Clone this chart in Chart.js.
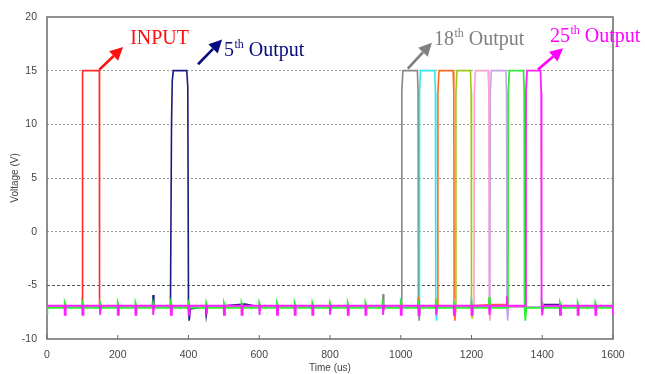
<!DOCTYPE html>
<html>
<head>
<meta charset="UTF-8">
<title>Shift register outputs</title>
<script src="https://cdn.jsdelivr.net/npm/chart.js"></script>
<style>
  html, body { margin: 0; padding: 0; background: #fff; }
  #wrap { width: 645px; height: 374px; }
</style>
</head>
<body>
<div id="wrap"><canvas id="chart"></canvas></div>
<script>
// time (us) of the clock edges seen on the baseline
const clockTimes = [50, 100, 150, 200, 250, 300, 350, 400, 450, 500, 550, 600, 650, 700, 750, 800,
                    850, 900, 950, 1000, 1050, 1100, 1150, 1200, 1250, 1300, 1350, 1400, 1450, 1500, 1550, 1600];
const magentaDip = -7.75;
const greenBump = -6.6;

// [time, voltage] points
const inputTrace = [[0, -7], [100, -7], [100.5, 15], [148, 15], [148.5, -7], [1600, -7]];
const out5Trace = [[0, -7], [298, -7], [300, -5.9], [302, -7], [349, -7], [352, 10], [354, 14], [357, 15],
                   [395, 15], [398, 13.5], [400, -7], [402, -8.3], [405, -7.2], [448, -7], [450, -7.8],
                   [453, -7], [500, -6.9], [560, -6.75], [600, -7], [1400, -7], [1405, -6.8], [1450, -6.8], [1460, -7], [1600, -7]];
const out18Trace = [[0, -7], [948, -7], [950, -5.8], [952, -7], [1002, -7], [1003, 13], [1006, 15],
                    [1047, 15], [1049, 13], [1050, -7], [1052, -8.3], [1055, -7], [1600, -7]];
const out19Trace = [[0, -7], [998, -7], [1000, -6.2], [1002, -7], [1052, -7], [1053, 13], [1056, 15],
                    [1096, 15], [1098, 13], [1099, -7], [1101, -8.3], [1104, -7], [1600, -7]];
const out20Trace = [[0, -7], [1048, -7], [1050, -6.1], [1052, -7], [1104, -7], [1105, 13], [1108, 15],
                    [1148, 15], [1150, 13], [1151, -7], [1153, -8.3], [1156, -7], [1260, -6.8], [1300, -6.8], [1305, -7], [1600, -7]];
const out21Trace = [[0, -7], [1098, -7], [1100, -6.2], [1102, -7], [1155, -7], [1156, 13], [1159, 15],
                    [1197, 15], [1199, 13], [1200, -7], [1202, -8.1], [1205, -7], [1600, -7]];
const out22Trace = [[0, -7], [1148, -7], [1150, -6.2], [1152, -7], [1207, -7], [1208, 13], [1211, 15],
                    [1247, 15], [1249, 13], [1250, -7], [1252, -8.3], [1255, -7], [1600, -7]];
const out23Trace = [[0, -7], [1198, -7], [1200, -6.2], [1202, -7], [1252, -7], [1253, 13], [1256, 15],
                    [1297, 15], [1299, 13], [1300, -7], [1302, -8.3], [1305, -7], [1600, -7]];
const out24Pulse = [[1248, -7.1], [1250, -6.1], [1252, -7.1], [1303, -7.1], [1304, 13], [1307, 15],
                    [1347, 15], [1349, 13], [1350, -7.1], [1352, -8.3], [1355, -7.1]];
const out25Pulse = [[1298, -6.9], [1300, -6.0], [1302, -6.9], [1353, -6.9], [1354, 13], [1357, 15],
                    [1395, 15], [1397, 13], [1398, -6.9], [1400, -7.8], [1403, -6.9]];

const xMin = 0, xMax = 1600, xStep = 200;
const yMin = -10, yMax = 20, yStep = 5;

// labels with arrows: [text, superscript, rest, colour, tailX, tailY, headX, headY, textX, textY]
const notes = [
  ['INPUT', '', '', '#ff1010', 148, 15.1, 215, 17.2, 235, 17.5],
  ['5', 'th', ' Output', '#0a0a80', 427, 15.6, 495, 17.9, 500, 16.35],
  ['18', 'th', ' Output', '#808080', 1020, 15.2, 1088, 17.6, 1094, 17.4],
  ['25', 'th', ' Output', '#ff00ff', 1388, 15.1, 1459, 17.1, 1422, 17.7]
];

function toXY(list) { return list.map(p => ({ x: p[0], y: p[1] })); }

// the last two traces carry the clock feed-through on the baseline
function withClock(pulse, level, spikeLevel, down) {
  const pts = [[0, down ? -6.9 : -7.6], [1, level]];
  clockTimes.forEach(t => {
    if (t > pulse[0][0] - 3 && t < pulse[pulse.length - 1][0] + 3) return;
    if (down) {
      pts.push([t - 0.5, level], [t, spikeLevel], [t + 2, spikeLevel], [t + 3, level]);
    } else {
      pts.push([t - 1, level], [t, spikeLevel], [t + 5, level]);
    }
  });
  pulse.forEach(p => pts.push(p));
  pts.sort((a, b) => a[0] - b[0]);
  return pts;
}

function line(data, color, width) {
  return { data: toXY(data), borderColor: color, borderWidth: width || 1.6,
           pointRadius: 0, tension: 0, fill: false };
}

const datasets = [
  line(withClock(out25Pulse, -6.9, magentaDip, true), '#ff20ff', 1.8),
  line(withClock(out24Pulse, -7.1, greenBump, false), '#30ee30', 1.8),
  line(out23Trace, '#c8a0f0'),
  line(out22Trace, '#ffa0c8'),
  line(out21Trace, '#a0c818'),
  line(out20Trace, '#ff6a20'),
  line(out19Trace, '#30e8e8'),
  line(out18Trace, '#888888'),
  line(out5Trace, '#1a1a80'),
  line(inputTrace, '#ff2a2a')
];

const framePlugin = {
  id: 'frame',
  beforeDatasetsDraw(chart) {
    const { ctx, chartArea: a, scales } = chart;
    ctx.save();
    ctx.strokeStyle = '#6a6a6a';
    ctx.lineWidth = 1.5;
    ctx.strokeRect(a.left, a.top, a.right - a.left, a.bottom - a.top);
    ctx.lineWidth = 1;
    ctx.beginPath();
    scales.x.ticks.forEach(t => {
      const px = scales.x.getPixelForValue(t.value);
      ctx.moveTo(px, a.bottom);
      ctx.lineTo(px, a.bottom - 4);
    });
    ctx.stroke();
    ctx.restore();
  }
};

const notePlugin = {
  id: 'notes',
  afterDraw(chart) {
    const { ctx, scales } = chart;
    ctx.save();
    notes.forEach(n => {
      const [txt, sup, rest, color, tx, ty, hx, hy, lx, ly] = n;
      const x1 = scales.x.getPixelForValue(tx), y1 = scales.y.getPixelForValue(ty);
      const x2 = scales.x.getPixelForValue(hx), y2 = scales.y.getPixelForValue(hy);
      const ang = Math.atan2(y2 - y1, x2 - x1);
      const headLen = 13, headW = 6.5;
      const bx = x2 - headLen * Math.cos(ang), by = y2 - headLen * Math.sin(ang);
      ctx.strokeStyle = color;
      ctx.fillStyle = color;
      ctx.lineWidth = 2.6;
      ctx.beginPath();
      ctx.moveTo(x1, y1);
      ctx.lineTo(bx, by);
      ctx.stroke();
      ctx.beginPath();
      ctx.moveTo(x2, y2);
      ctx.lineTo(bx + headW * Math.sin(ang), by - headW * Math.cos(ang));
      ctx.lineTo(bx - headW * Math.sin(ang), by + headW * Math.cos(ang));
      ctx.closePath();
      ctx.fill();

      let px = scales.x.getPixelForValue(lx);
      const py = scales.y.getPixelForValue(ly);
      ctx.textBaseline = 'alphabetic';
      ctx.textAlign = 'left';
      ctx.font = '20px "Liberation Serif", "Times New Roman", serif';
      ctx.fillText(txt, px, py);
      px += ctx.measureText(txt).width;
      if (sup) {
        ctx.font = '12px "Liberation Serif", "Times New Roman", serif';
        ctx.fillText(sup, px + 0.5, py - 8);
        px += ctx.measureText(sup).width + 0.5;
        ctx.font = '20px "Liberation Serif", "Times New Roman", serif';
        ctx.fillText(rest, px, py);
      }
    });
    ctx.restore();
  }
};

const tickFont = { family: '"Liberation Sans", Arial, sans-serif', size: 10.5 };
const titleFont = { family: '"Liberation Sans", Arial, sans-serif', size: 10 };

new Chart(document.getElementById('chart'), {
  type: 'line',
  data: { datasets: datasets },
  options: {
    responsive: true,
    maintainAspectRatio: false,
    animation: false,
    events: [],
    layout: { padding: { left: 9, right: 32, top: 17, bottom: 0 } },
    plugins: { legend: { display: false }, tooltip: { enabled: false } },
    scales: {
      x: {
        type: 'linear',
        min: xMin, max: xMax,
        ticks: { stepSize: xStep, font: tickFont, color: '#444', padding: 10, maxRotation: 0,
                 callback: v => String(v) },
        grid: { display: false, drawTicks: false },
        border: { display: false },
        title: { display: true, text: 'Time (us)', font: titleFont, color: '#444', padding: 0 },
        afterFit(scale) { scale.height = 35; }
      },
      y: {
        min: yMin, max: yMax,
        ticks: { stepSize: yStep, font: tickFont, color: '#444', padding: 10 },
        grid: {
          drawTicks: false,
          color: c => (c.tick && c.tick.value === -5) ? '#555' : '#999',
          lineWidth: c => (c.tick && (c.tick.value === 20 || c.tick.value === -10)) ? 0 : 1
        },
        border: { display: false, dash: c => (c.tick && c.tick.value === -5) ? [3, 2] : [2, 2] },
        title: { display: true, text: 'Voltage (V)', font: titleFont, color: '#444', padding: 0 },
        afterFit(scale) { scale.width = 38; }
      }
    }
  },
  plugins: [framePlugin, notePlugin]
});
</script>
</body>
</html>
